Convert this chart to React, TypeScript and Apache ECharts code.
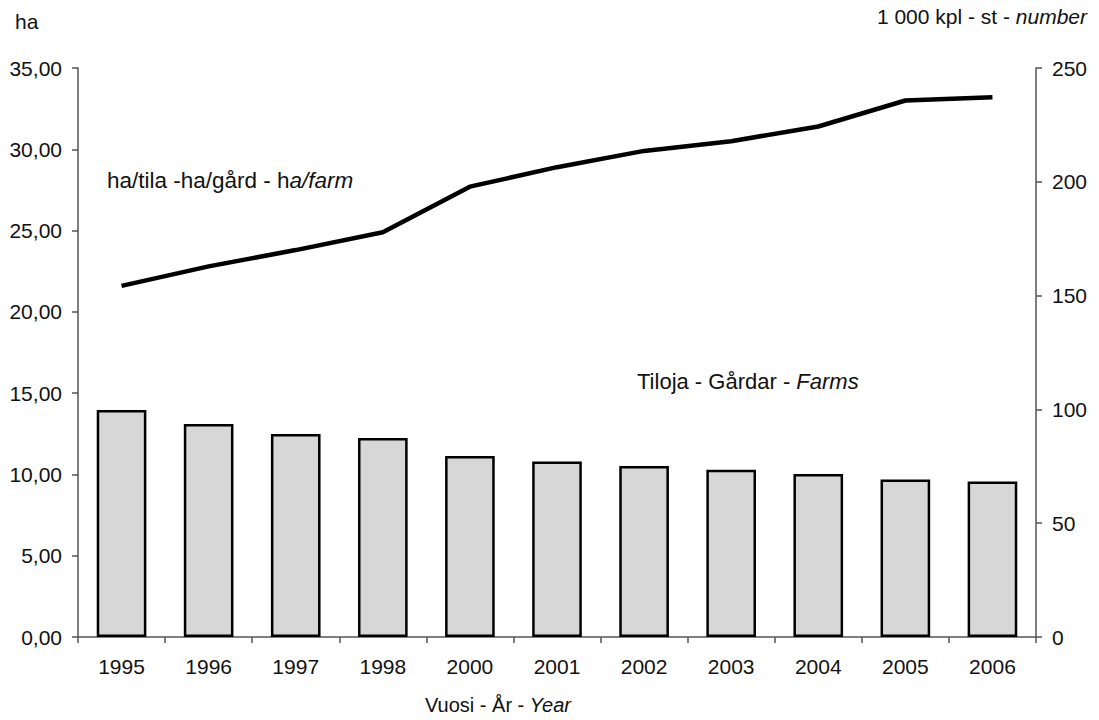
import React, { useEffect, useRef } from "react";
import * as echarts from "echarts";

const years = ["1995", "1996", "1997", "1998", "2000", "2001", "2002", "2003", "2004", "2005", "2006"];
const farms = [99.7, 93.6, 89.2, 87.4, 79.5, 77.1, 75.1, 73.5, 71.6, 69.2, 68.3];
const haPerFarm = [21.6, 22.8, 23.8, 24.9, 27.7, 28.9, 29.9, 30.5, 31.4, 33.0, 33.2];

const FONT = "'Liberation Sans', Arial, sans-serif";
const TXT = "#111";
const AX = "#555";

function mixed(n: string, i: string, size: number) {
  return {
    text: `{n|${n}}{i|${i}}`,
    fontSize: size,
    fill: TXT,
    fontFamily: FONT,
    rich: {
      n: { fontSize: size, fontFamily: FONT, fill: TXT },
      i: { fontSize: size, fontFamily: FONT, fontStyle: "italic", fill: TXT },
    },
  };
}

export default function App() {
  const ref = useRef<HTMLDivElement>(null);
  useEffect(() => {
    if (!ref.current) return;
    const chart = echarts.init(ref.current, undefined, { renderer: "svg" });
    chart.setOption({
      animation: false,
      backgroundColor: "#fff",
      textStyle: { fontFamily: FONT, color: TXT },
      grid: { left: 78, right: 63, top: 68, bottom: 83 },
      xAxis: {
        type: "category",
        data: years,
        axisLine: { lineStyle: { color: AX, width: 1.5 } },
        axisTick: { show: true, inside: false, length: 6, lineStyle: { color: AX, width: 1.5 } },
        axisLabel: { fontSize: 21, color: TXT, margin: 19, fontFamily: FONT },
      },
      yAxis: [
        {
          type: "value",
          min: 0,
          max: 35,
          interval: 5,
          position: "left",
          splitLine: { show: false },
          axisLine: { show: true, lineStyle: { color: AX, width: 1.5 } },
          axisTick: { show: true, length: 6, lineStyle: { color: AX, width: 1.5 } },
          axisLabel: {
            fontSize: 21,
            color: TXT,
            margin: 16,
            fontFamily: FONT,
            formatter: (v: number) => v.toFixed(2).replace(".", ","),
          },
        },
        {
          type: "value",
          min: 0,
          max: 250,
          interval: 50,
          position: "right",
          splitLine: { show: false },
          axisLine: { show: true, lineStyle: { color: AX, width: 1.5 } },
          axisTick: { show: true, length: 6, lineStyle: { color: AX, width: 1.5 } },
          axisLabel: { fontSize: 21, color: TXT, margin: 16, fontFamily: FONT },
        },
      ],
      series: [
        {
          name: "Tiloja - Gårdar - Farms",
          type: "bar",
          yAxisIndex: 1,
          data: farms,
          barCategoryGap: "43%",
          itemStyle: { color: "#d7d7d7", borderColor: "#000", borderWidth: 2.5 },
        },
        {
          name: "ha/tila -ha/gård - ha/farm",
          type: "line",
          yAxisIndex: 0,
          data: haPerFarm,
          symbol: "none",
          lineStyle: { color: "#000", width: 4.5 },
        },
      ],
      graphic: [
        {
          type: "text",
          left: 15,
          top: 11,
          style: { text: "ha", fontSize: 21, fill: TXT, fontFamily: FONT },
        },
        {
          type: "text",
          right: 12,
          top: 6,
          style: mixed("1 000 kpl - st - ", "number", 21),
        },
        {
          type: "text",
          left: 107,
          top: 169,
          style: mixed("ha/tila -ha/gård - h", "a/farm", 22.5),
        },
        {
          type: "text",
          left: 637,
          top: 370,
          style: mixed("Tiloja - Gårdar - ", "Farms", 22),
        },
        {
          type: "text",
          left: 425,
          top: 695,
          style: mixed("Vuosi - År - ", "Year", 20),
        },
      ],
    });
    return () => chart.dispose();
  }, []);
  return (
    <div
      ref={ref}
      style={{ position: "absolute", left: 0, top: 0, width: 1099, height: 720, background: "#fff" }}
    />
  );
}
